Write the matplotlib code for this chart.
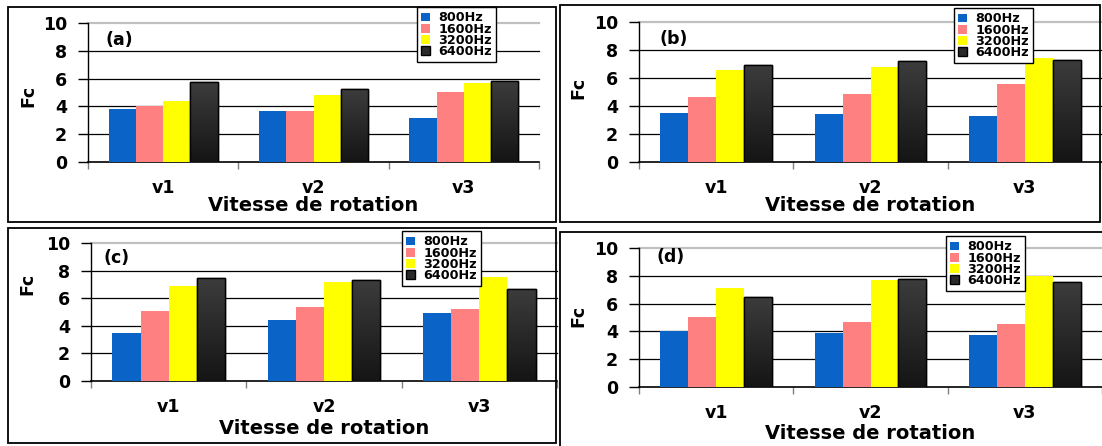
import matplotlib
matplotlib.use("Agg")
import matplotlib.pyplot as plt
import numpy as np
from matplotlib.colors import LinearSegmentedColormap
from matplotlib.patches import Rectangle

plt.rcParams["font.family"] = ["DejaVu Sans"]
plt.rcParams["font.weight"] = "bold"
plt.rcParams["axes.labelweight"] = "bold"

CATEGORIES = ["v1", "v2", "v3"]
FREQS = ["800Hz", "1600Hz", "3200Hz", "6400Hz"]
YTICKS = [0, 2, 4, 6, 8, 10]

# Fc values, one row per frequency, one column per rotation speed
FC_A = [[3.80, 3.70, 3.15], [4.00, 3.65, 5.00], [4.40, 4.85, 5.70], [5.75, 5.25, 5.85]]
FC_B = [[3.50, 3.40, 3.25], [4.65, 4.85, 5.55], [6.60, 6.75, 7.45], [6.95, 7.20, 7.30]]
FC_C = [[3.45, 4.40, 4.95], [5.10, 5.35, 5.25], [6.90, 7.20, 7.55], [7.50, 7.35, 6.70]]
FC_D = [[4.05, 3.90, 3.75], [5.05, 4.65, 4.50], [7.10, 7.70, 7.95], [6.50, 7.80, 7.55]]

COLORS = ["#0a64c8", "#ff8080", "#ffff00", "#2a2a2a"]
DARK = LinearSegmentedColormap.from_list("dark", ["#151515", "#3c3c3c"])

W, H = 1102, 446
BAR_W = 0.181


def px_rect(l, r, top, bot):
    return [l / W, 1 - bot / H, (r - l) / W, (bot - top) / H]


def draw_panel(fig, values, tag, ax_px, frame_px, leg_px, tag_xy, fc_px, xlab_y):
    fl, ft, fr, fb = frame_px
    fig.add_artist(Rectangle((fl / W, 1 - fb / H), (fr - fl) / W, (fb - ft) / H,
                             transform=fig.transFigure, fill=False,
                             edgecolor="black", linewidth=1.3))
    ax = fig.add_axes(px_rect(*ax_px))
    x = np.arange(len(CATEGORIES))
    for i, (name, vals) in enumerate(zip(FREQS, values)):
        off = (i - 1.5) * BAR_W
        if i == 3:
            bars = ax.bar(x + off, vals, BAR_W, color=COLORS[i], edgecolor="black",
                          linewidth=1, zorder=3, label=name)
            # dark series gets a vertical shade like the original
            for b in bars:
                grad = np.linspace(0, 1, 64).reshape(-1, 1)
                im = ax.imshow(grad, extent=[b.get_x(), b.get_x() + b.get_width(),
                                             0, b.get_height()],
                               origin="lower", cmap=DARK, aspect="auto", zorder=3.2)
                im.set_clip_path(b)
            ax.bar(x + off, vals, BAR_W, fill=False, edgecolor="black",
                   linewidth=1, zorder=3.4)
        else:
            ax.bar(x + off, vals, BAR_W, color=COLORS[i], linewidth=0,
                   zorder=3, label=name)

    for yv in YTICKS[1:]:
        top = yv == YTICKS[-1]
        ax.axhline(yv, color="#c0c0c0" if top else "black",
                   linewidth=1.6 if top else 0.9, zorder=1, clip_on=False)

    ax.set_xlim(-0.5, 2.5)
    ax.set_ylim(0, 10)
    ax.set_yticks(YTICKS)
    ax.tick_params(axis="y", length=7, width=1, labelsize=12.5, pad=8)
    ax.set_xticks(x)
    ax.set_xticklabels(CATEGORIES)
    ax.set_xticks(np.arange(-0.5, 3, 1), minor=True)
    ax.tick_params(axis="x", which="major", length=0, labelsize=12.5, pad=12)
    ax.tick_params(axis="x", which="minor", length=5, width=1, color="#808080")
    for s in ("top", "right"):
        ax.spines[s].set_visible(False)
    ax.spines["left"].set_linewidth(1)
    ax.spines["bottom"].set_linewidth(1.2)

    ax.set_xlabel("Vitesse de rotation", fontsize=14, fontweight="bold", va="top")
    ax.xaxis.set_label_coords(0.5, xlab_y)
    fig.text(fc_px[0] / W, 1 - fc_px[1] / H, "Fc", rotation=90, ha="center",
             va="center", fontsize=12.5, fontweight="bold")
    ax.text(tag_xy[0], tag_xy[1], tag, transform=ax.transAxes, ha="left",
            va="center", fontsize=12.5, fontweight="bold")

    leg = ax.legend(loc="upper left", bbox_to_anchor=(leg_px[0] / W, 1 - leg_px[1] / H),
                    bbox_transform=fig.transFigure, borderaxespad=0, fancybox=False,
                    edgecolor="black", framealpha=1, prop={"weight": "bold", "size": 9.2},
                    handlelength=0.7, handleheight=0.7, handletextpad=0.6,
                    labelspacing=-0.15, borderpad=0.35)
    leg.get_frame().set_linewidth(1.0)
    leg.set_zorder(10)
    return ax


fig = plt.figure(figsize=(W / 100, H / 100), dpi=100)

draw_panel(fig, FC_A, "(a)", (88, 539, 23, 162), (8, 7, 556, 222), (417, 7),
           (0.038, 0.878), (28, 96), -0.245)
draw_panel(fig, FC_B, "(b)", (639, 1102, 22, 162), (560, 5, 1100, 222), (954, 8),
           (0.045, 0.879), (578, 88), -0.243)
draw_panel(fig, FC_C, "(c)", (91, 557, 243, 381), (8, 228, 556, 443), (402, 231),
           (0.026, 0.891), (27, 284), -0.275)
draw_panel(fig, FC_D, "(d)", (639, 1102, 248, 387), (560, 232, 1106, 450), (946, 236),
           (0.037, 0.935), (578, 316), -0.266)

fig.savefig("out.png", dpi=100)
